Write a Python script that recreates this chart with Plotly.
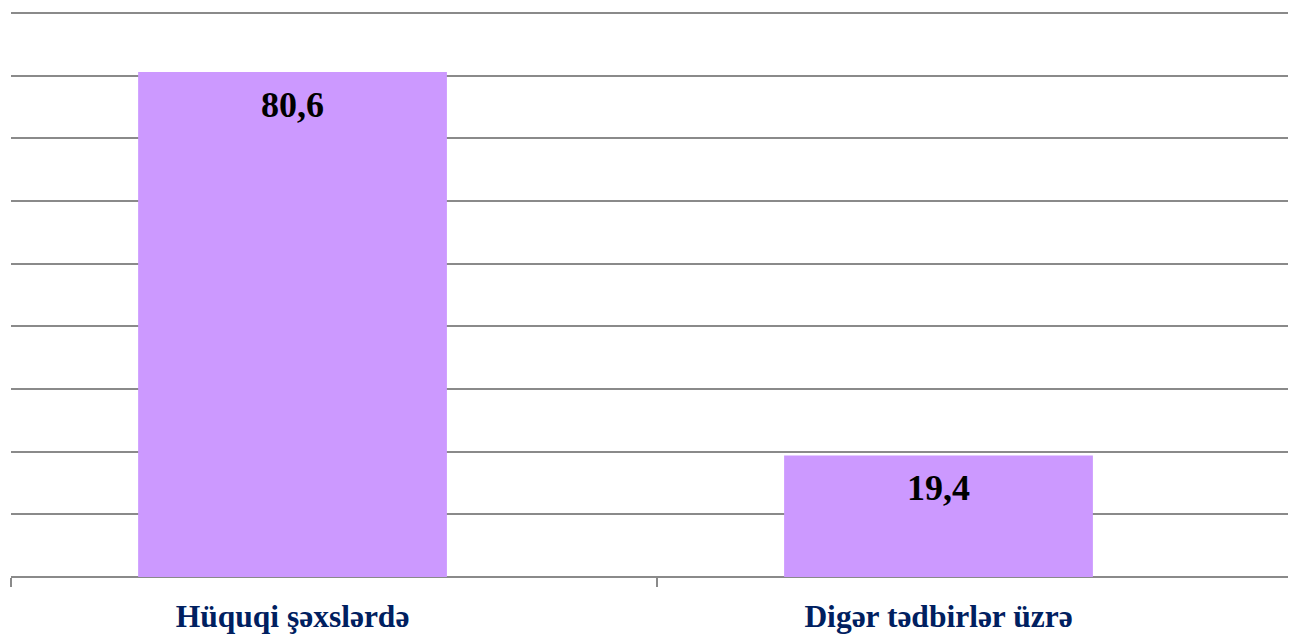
import plotly.graph_objects as go

categories = ["Hüquqi şəxslərdə", "Digər tədbirlər üzrə"]
values = [80.6, 19.4]
positions = [0, 1]
boundary_ticks = [-0.4358, 0.5642]

bar_color = "#CC99FF"
grid_color = "#8A8A8A"
label_color = "#002060"
serif = "Liberation Serif, Times New Roman, serif"

fig = go.Figure()
fig.add_trace(go.Bar(
    x=positions, y=values, width=0.478,
    marker=dict(color=bar_color, line=dict(width=0)),
    hoverinfo="skip",
))

for xp, v in zip(positions, values):
    fig.add_annotation(
        x=xp, y=v, xref="x", yref="y",
        text=f"{v:.1f}".replace(".", ","),
        showarrow=False, yanchor="top", yshift=-11,
        font=dict(family=serif, size=36, color="black", weight="bold"),
    )

fig.update_layout(
    width=1296, height=626,
    margin=dict(l=3, r=0, t=2, b=57),
    paper_bgcolor="white", plot_bgcolor="white",
    showlegend=False,
    xaxis=dict(
        range=[-0.4358, 1.5658],
        tickmode="array", tickvals=positions, ticktext=categories,
        ticks="", showgrid=False, zeroline=False,
        ticklabelstandoff=17, automargin=False,
        tickfont=dict(family=serif, size=31.5, color=label_color, weight="bold"),
        minor=dict(tickmode="array", tickvals=boundary_ticks, ticks="outside",
                   ticklen=9, tickwidth=2, tickcolor=grid_color, showgrid=False),
        showline=False,
    ),
    yaxis=dict(
        range=[0, 90.5], dtick=10, showticklabels=False, automargin=False,
        showgrid=True, gridcolor=grid_color, gridwidth=2,
        zeroline=True, zerolinecolor=grid_color, zerolinewidth=2,
        ticks="",
    ),
)

fig.write_html("out.html")
